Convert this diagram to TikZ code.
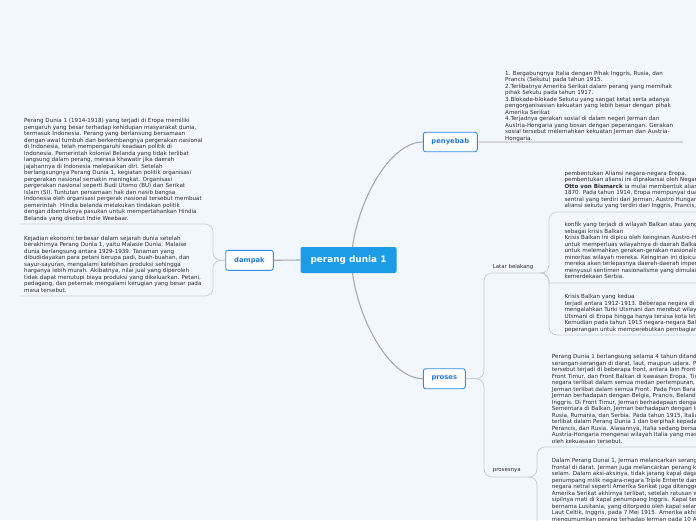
\documentclass[tikz,border=0pt]{standalone}
\usepackage{fontspec}
\setmainfont{DejaVu Sans}
\definecolor{bgc}{HTML}{F2F6FD}
\definecolor{rootfill}{HTML}{1C9BE6}
\definecolor{topicblue}{HTML}{2F8CE3}
\definecolor{topictext}{HTML}{2278D0}
\definecolor{maingrey}{HTML}{A9A9A9}
\definecolor{subgrey}{HTML}{C9CCD3}
\definecolor{txt}{HTML}{2B2B2B}
\tikzset{
  body/.style={anchor=north west, inner sep=0pt, align=left, text=txt, font=\fontsize{5.6}{6.5}\selectfont},
  lbl/.style={anchor=west, inner sep=0pt, text=txt, font=\fontsize{5.4}{6.5}\selectfont},
  topic/.style={draw=topicblue, fill=white, line width=0.9pt, rounded corners=2.5pt, text=topictext, font=\bfseries\fontsize{6.8}{8}\selectfont, inner sep=0pt},
  rootbox/.style={fill=rootfill, rounded corners=2pt, text=white, font=\bfseries\fontsize{8.9}{10}\selectfont, inner sep=0pt},
  mainline/.style={draw=maingrey, line width=1.1pt},
  subline/.style={draw=subgrey, line width=0.7pt, rounded corners=8pt},
  uline/.style={draw=subgrey!80!white, line width=1.3pt},
}
\begin{document}
\begin{tikzpicture}[x=1pt,y=-1pt]
\fill[bgc] (0,0) rectangle (696,520);
\useasboundingbox (0,0) rectangle (696,520);

% topics
\node[rootbox, minimum width=96pt, minimum height=26pt] (root) at (348.5,260) {perang dunia 1};
\node[topic, minimum width=54pt, minimum height=19.5pt] (penyebab) at (450.3,142) {penyebab};
\node[topic, minimum width=47.6pt, minimum height=20pt] (dampak) at (249.5,260.3) {dampak};
\node[topic, minimum width=42pt, minimum height=20pt] (proses) at (444.3,378.7) {proses};

% coordinates
\coordinate (penEnd) at (683,142);
\coordinate (dj) at (213,260.3);
\coordinate (dTop) at (20,224);
\coordinate (dBot) at (20,296);
\coordinate (pj) at (484,378.7);
\coordinate (lbj) at (549,273);
\coordinate (lbm) at (540,273);
\coordinate (aEnd) at (696,212);
\coordinate (bEnd) at (696,283);
\coordinate (cEnd) at (696,335);
\coordinate (prj) at (537,477);
\coordinate (prm) at (528,477);
\coordinate (dEnd) at (696,447);
\coordinate (eEnd) at (537,530);

% main connectors
\draw[mainline] ([xshift=4pt]root.north) .. controls +(7,-50) and +(-32,0) .. (penyebab.west);
\draw[mainline] ([xshift=4pt]root.south) .. controls +(7,50) and +(-32,0) .. (proses.west);
\draw[mainline] (root.west) -- (dampak.east);
\draw[uline] (penyebab.east) -- (penEnd);

% sub connectors
\draw[subline] (dampak.west) -- (dj) -- (213,224) -- (dTop);
\draw[subline] (dampak.west) -- (dj) -- (213,296) -- (dBot);
\draw[subline] (proses.east) -- (pj) -- (484,273) -- (lbj) -- (549,212) -- (aEnd);
\draw[subline] (lbm) .. controls (549,273) and (549,283) .. (557,283) -- (bEnd);
\draw[subline] (lbm) -- (lbj) -- (549,335) -- (cEnd);
\draw[subline] (proses.east) -- (pj) -- (484,477) -- (prj) -- (537,447) -- (dEnd);
\draw[subline] (prm) -- (prj) -- (eEnd);

% labels
\node[lbl] (latar) at (492.7,267) {Latar belakang};
\node[lbl] (prosesnya) at (492.7,470.5) {prosesnya};

% text blocks
\node[body] (tpen) at (505,70.8) {1. Bergabungnya Italia dengan Pihak Inggris, Rusia, dan\\
Prancis (Sekutu) pada tahun 1915.\\
2.Terlibatnya Amerika Serikat dalam perang yang memihak\\
pihak Sekutu pada tahun 1917.\\
3.Blokade-blokade Sekutu yang sangat ketat serta adanya\\
pengorganisasian kekuatan yang lebih besar dengan pihak\\
Amerika Serikat\\
4.Terjadnya gerakan sosial di dalam negeri Jerman dan\\
Austria-Hongaria yang bosan dengan peperangan. Gerakan\\
sosial tersebut melemahkan kekuatan Jerman dan Austria-\\
Hongaria.};

\node[body] (tdam1) at (24,118.2) {Perang Dunia 1 (1914-1918) yang terjadi di Eropa memiliki\\
pengaruh yang besar terhadap kehidupan masyarakat dunia,\\
termasuk Indonesia. Perang yang berlansung bersamaan\\
dengan awal tumbuh dan berkembangnya pergerakan nasional\\
di Indonesia, telah mempengaruhi keadaan politik di\\
Indonesia. Pemerintah kolonial Belanda yang tidak terlibat\\
langsung dalam perang, merasa khawatir jika daerah\\
jajahannya di Indonesia melepaskan diri. Setelah\\
berlangsungnya Perang Dunia 1, kegiatan politik organisasi\\
pergerakan nasional semakin meningkat. Organisasi\\
pergerakan nasional seperti Budi Utomo (BU) dan Serikat\\
Islam (SI). Tuntutan persamaan hak dan nasib bangsa\\
Indonesia oleh organisasi pergerak nasional tersebut membuat\\
pemerintah \ Hindia belanda melakukan tindakan politik\\
dengan dibentuknya pasukan untuk mempertahankan Hindia\\
Belanda yang disebut Indie Weebaar.};

\node[body] (tdam2) at (24,235.8) {Kejadian ekonomi terbesar dalam sejarah dunia setelah\\
berakhirnya Perang Dunia 1, yaitu Malasie Dunia. Malaise\\
dunia berlangsung antara 1929-1939. Tanaman yang\\
dibudidayakan para petani berupa padi, buah-buahan, dan\\
sayur-sayuran, mengalami kelebihan produksi sehingga\\
harganya lebih murah. Akibatnya, nilai jual yang diperoleh\\
tidak dapat menutupi biaya produksi yang dikeluarkan. Petani,\\
pedagang, dan peternak mengalami kerugian yang besar pada\\
masa tersebut.};

\node[body] (ta) at (564.3,171) {pembentukan Aliansi negara-negara Eropa.\\
pembentukan aliansi ini diprakarsai oleh Negara Jerman\\
\textbf{Otto von Bismarck} ia mulai membentuk aliansi\\
1870. Pada tahun 1914, Eropa mempunyai dua aliansi\\
sentral yang terdiri dari Jerman, Austro Hungaria\\
aliansi sekutu yang terdiri dari Inggris, Prancis, dan};

\node[body] (tb) at (564.3,222.5) {konfik yang terjadi di wilayah Balkan atau yang dikenal\\
sebagai krisis Balkan\\
Krisis Balkan ini dipicu oleh keinginan Austro-Hungaria\\
untuk memperluas wilayahnya di daerah Balkan\\
untuk melemahkan gerakan-gerakan nasionalisme\\
minoritas wilayah mereka. Keinginan ini dipicu oleh\\
mereka akan terlepasnya daerah-daerah imperium\\
menyusul sentimen nasionalisme yang dimulai dari\\
kemerdekaan Serbia.};

\node[body] (tc) at (564.3,294.2) {Krisis Balkan yang kedua\\
terjadi antara 1912-1913. Beberapa negara di wilayah\\
mengalahkan Turki Utsmani dan merebut wilayah\\
Utsmani di Eropa hingga hanya tersisa kota Istanbul\\
Kemudian pada tahun 1913 negara-negara Balkan\\
peperangan untuk memperebutkan pembagian wilayah};

\node[body] (td) at (551.7,354.2) {Perang Dunia 1 berlangsung selama 4 tahun ditandai\\
serangan-serangan di darat, laut, maupun udara. Perang\\
tersebut terjadi di beberapa front, antara lain Front Barat,\\
Front Timur, dan Front Balkan di kawasan Eropa. Tidak\\
negara terlibat dalam semua medan pertempuran, bahkan\\
Jerman terlibat dalam semua Front. Pada Fron Barat,\\
Jerman berhadapan dengan Belgia, Prancis, Belanda,\\
Inggris. Di Front Timur, Jerman berhadapaan dengan\\
Sementara di Balkan, Jerman berhadapan dengan Inggris\\
Rusia, Rumania, dan Serbia. Pada tahun 1915, Italia\\
terlibat dalam Perang Dunia 1 dan berpihak kepada Inggris\\
Perancis, dan Rusia. Alasannya, Italia sedang bersaing\\
Austria-Hongaria mengenai wilayah Italia yang masih\\
oleh kekuasaan tersebut.};

\node[body] (te) at (551.7,458.2) {Dalam Perang Dunai 1, Jerman melancarkan serangan\\
frontal di darat. Jerman juga melancarkan perang kapal\\
selam. Dalam aksi-aksinya, tidak jarang kapal dagang\\
penumpang milik negara-negara Triple Entente dan\\
negara netral seperti Amerika Serikat juga ditenggelamkan.\\
Amerika Serikat akhirnya terlibat, setelah ratusan warga\\
sipilnya mati di kapal penumpang Inggris. Kapal tersebut\\
bernama Lusitania, yang ditorpedo oleh kapal selam\\
Laut Celtik, Inggris, pada 7 Mei 1915. Amerika akhirnya\\
mengumumkan perang terhadap Jerman pada 10 April};
\end{tikzpicture}
\end{document}
